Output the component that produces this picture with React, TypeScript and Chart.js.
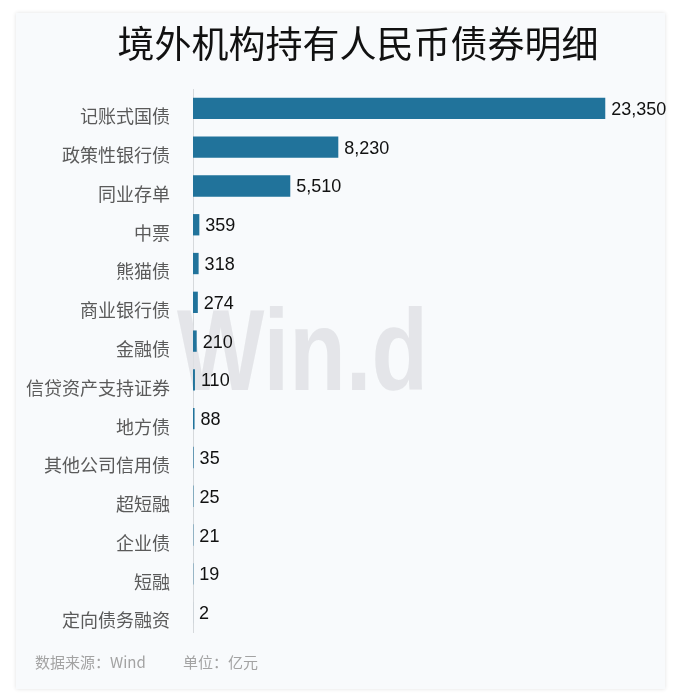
import React, { useEffect, useRef } from "react";
import { Chart, registerables } from "chart.js";

Chart.register(...registerables);

const titleText = "境外机构持有人民币债券明细";
const categories = [
  "记账式国债",
  "政策性银行债",
  "同业存单",
  "中票",
  "熊猫债",
  "商业银行债",
  "金融债",
  "信贷资产支持证券",
  "地方债",
  "其他公司信用债",
  "超短融",
  "企业债",
  "短融",
  "定向债务融资",
];
const values = [23350, 8230, 5510, 359, 318, 274, 210, 110, 88, 35, 25, 21, 19, 2];
const sourceText = "数据来源：Wind";
const unitText = "单位：亿元";
const watermarkText = "Win.d";

const W = 675;
const H = 696;

export default function App() {
  const ref = useRef<HTMLCanvasElement | null>(null);

  useEffect(() => {
    const canvas = ref.current;
    if (!canvas) return;

    const decor = {
      id: "decor",
      beforeDatasetsDraw(chart: any) {
        const ctx = chart.ctx;
        ctx.save();
        ctx.font = 'bold 115px "Liberation Sans", Arial, sans-serif';
        const w = ctx.measureText(watermarkText).width;
        ctx.translate(177, 390);
        ctx.scale(251 / w, 1);
        ctx.fillStyle = "rgba(222,224,228,0.8)";
        ctx.textAlign = "left";
        ctx.textBaseline = "alphabetic";
        ctx.fillText(watermarkText, 0, 0);
        ctx.restore();
      },
      afterDatasetsDraw(chart: any) {
        const ctx = chart.ctx;
        const meta = chart.getDatasetMeta(0);
        ctx.save();
        ctx.font = '18px "Liberation Sans", Arial, sans-serif';
        ctx.fillStyle = "#111111";
        ctx.textAlign = "left";
        ctx.textBaseline = "middle";
        meta.data.forEach((bar: any, i: number) => {
          ctx.fillText(values[i].toLocaleString("en-US"), bar.x + 6, bar.y + 1.5);
        });
        ctx.restore();
      },
      afterDraw(chart: any) {
        const ctx = chart.ctx;
        ctx.save();
        ctx.font = '37px "Noto Sans CJK SC", sans-serif';
        ctx.fillStyle = "#111111";
        ctx.textAlign = "center";
        ctx.textBaseline = "middle";
        ctx.fillText(titleText, 358, 44);
        ctx.font = '15px "Noto Sans CJK SC", sans-serif';
        ctx.fillStyle = "#a3a3a3";
        ctx.textAlign = "left";
        ctx.fillText(sourceText, 35, 662);
        ctx.fillText(unitText, 183, 662);
        ctx.restore();
      },
    };

    const chart = new Chart(canvas, {
      type: "bar",
      data: {
        labels: categories,
        datasets: [
          {
            data: values,
            backgroundColor: "#21739b",
            borderWidth: 0,
            categoryPercentage: 0.55,
            barPercentage: 1,
          },
        ],
      },
      options: {
        indexAxis: "y",
        responsive: false,
        animation: false,
        devicePixelRatio: 1,
        layout: { padding: { top: 89, bottom: 64, left: 0, right: 15 } },
        plugins: {
          legend: { display: false },
          title: { display: false },
          tooltip: { enabled: false },
        },
        scales: {
          x: {
            display: false,
            min: 0,
            max: 26450,
          },
          y: {
            afterFit(scale: any) {
              scale.width = 193;
            },
            grid: { display: false },
            border: { display: true, color: "#d6d9dc", width: 1 },
            ticks: {
              autoSkip: false,
              color: "#5a5a5a",
              padding: 15,
              labelOffset: 8,
              font: { family: '"Noto Sans CJK SC", sans-serif', size: 18 },
            },
          },
        },
      },
      plugins: [decor],
    } as any);

    return () => chart.destroy();
  }, []);

  return (
    <div
      style={{
        position: "absolute",
        left: 0,
        top: 0,
        width: W,
        height: H,
        background: "#ffffff",
        overflow: "hidden",
      }}
    >
      <div
        style={{
          position: "absolute",
          left: 16,
          top: 13,
          width: 649,
          height: 676,
          background: "#f8fafc",
          boxShadow: "0 0 4px rgba(0,0,0,0.12)",
        }}
      />
      <canvas
        ref={ref}
        width={W}
        height={H}
        style={{ position: "absolute", left: 0, top: 0, width: W, height: H }}
      />
    </div>
  );
}
